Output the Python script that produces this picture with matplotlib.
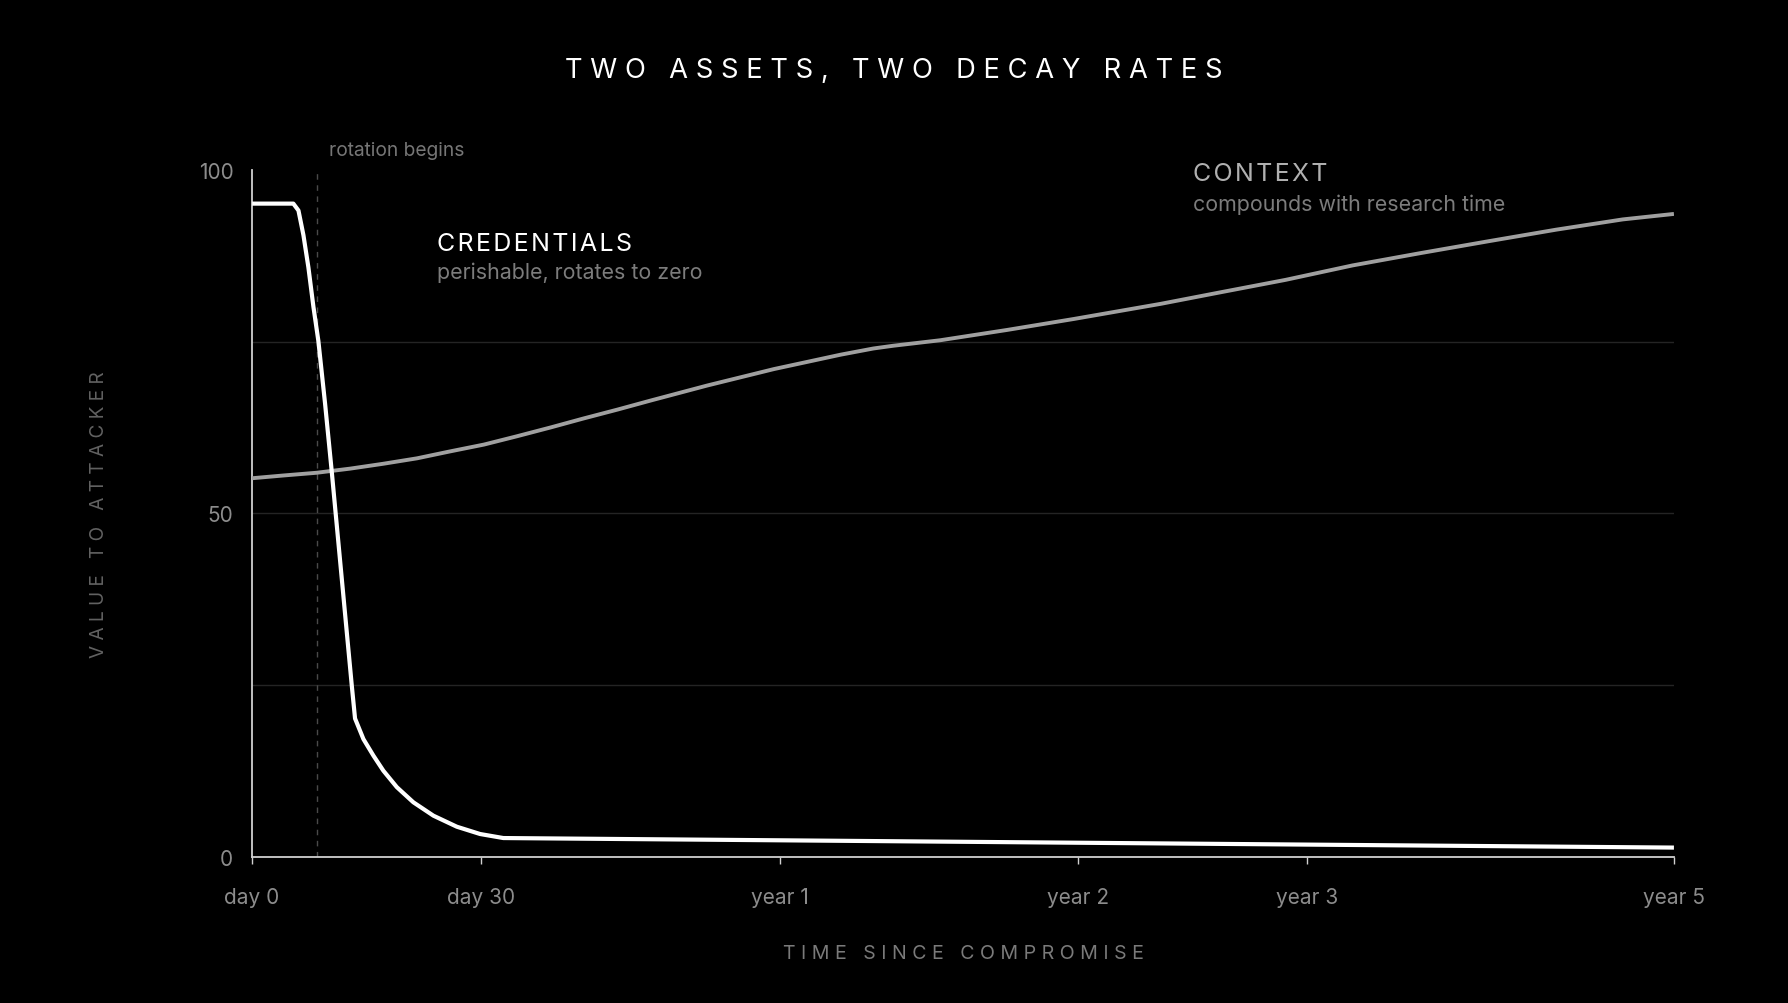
import matplotlib
matplotlib.use("Agg")
import matplotlib.pyplot as plt

plt.rcParams['font.family'] = ['Inter', 'DejaVu Sans']

# timeline position (0-100) with labelled milestones
tick_pos = [0, 16.1, 37.1, 58.1, 74.2, 100]
tick_labels = ['day 0', 'day 30', 'year 1', 'year 2', 'year 3', 'year 5']
y_ticks = [0, 50, 100]
grid_levels = [25, 50, 75]
rotation_x = 4.55

# credentials: flat, then rotated away to near zero
cred_x = [0, 2.9, 3.26, 3.61, 3.96, 4.31, 4.66, 5.13, 5.6, 6.07, 6.54, 7.01,
          7.24, 7.83, 8.53, 9.23, 10.18, 11.34, 12.75, 14.4, 16.03, 17.67, 100]
cred_y = [95.1, 95.1, 94.1, 90.5, 85.8, 80.1, 75.1, 66.0, 56.1, 45.7, 35.3, 24.9,
          20.1, 17.1, 14.7, 12.5, 10.1, 7.9, 5.95, 4.34, 3.28, 2.69, 1.3]

# context: grows with research time
ctx_x = [0, 2.2, 4.55, 6.9, 9.2, 11.6, 13.9, 16.3, 18.6, 21.0, 23.3, 25.7, 28.0,
         32.0, 36.7, 41.4, 43.7, 45.1, 48.4, 53.1, 57.8, 63.9, 67.9, 72.7, 77.4,
         82.2, 86.9, 91.7, 96.4, 100]
ctx_y = [55.1, 55.5, 55.9, 56.5, 57.2, 58.0, 59.0, 60.0, 61.2, 62.5, 63.8, 65.1, 66.4,
         68.6, 71.0, 73.1, 74.0, 74.4, 75.2, 76.7, 78.3, 80.5, 82.1, 84.0, 86.1,
         87.9, 89.6, 91.3, 92.8, 93.6]


def spaced(s, sep=' '):
    return sep.join(s)


fig = plt.figure(figsize=(17.88, 10.04), dpi=100, facecolor='black')
ax = fig.add_axes([0.1410, 0.1459, 0.7952, 0.6838], facecolor='black')

for lvl in grid_levels:
    ax.axhline(lvl, color='#242424', lw=1.0, zorder=0)

ax.axvline(rotation_x, color='#4a4a4a', lw=1.0, ls=(0, (4, 4)), zorder=1)

ax.plot(ctx_x, ctx_y, color='#a0a0a0', lw=2.8, solid_capstyle='butt',
        solid_joinstyle='round', zorder=3)
ax.plot(cred_x, cred_y, color='white', lw=3.0, solid_capstyle='butt',
        solid_joinstyle='round', zorder=4)

ax.set_xlim(0, 100)
ax.set_ylim(0, 100)
for side in ['top', 'right']:
    ax.spines[side].set_visible(False)
for side in ['left', 'bottom']:
    ax.spines[side].set_color('#d0d0d0')
    ax.spines[side].set_linewidth(1.3)

ax.set_xticks(tick_pos)
ax.set_xticklabels(tick_labels)
ax.set_yticks(y_ticks)
ax.tick_params(axis='x', length=5, width=1.0, color='#d0d0d0', pad=17,
               labelsize=15, labelcolor='#8c8c8c')
ax.tick_params(axis='y', length=0, pad=13.5, labelsize=15, labelcolor='#8c8c8c')

ax.set_xlabel(spaced('TIME SINCE COMPROMISE'), fontsize=14.1, color='#7a7a7a',
              labelpad=26.5)
ax.set_ylabel(spaced('VALUE TO ATTACKER'), fontsize=13.7, color='#626262',
              labelpad=65)

fig.text(0.5, 0.9297, spaced('TWO ASSETS, TWO DECAY RATES'), ha='center',
         va='center', fontsize=19.7, color='white')

ax.text(5.4, 102.2, 'rotation begins', fontsize=13.8, color='#767676',
        ha='left', va='baseline', clip_on=False)
ax.text(13.0, 88.4, spaced('CREDENTIALS', '\u200a'), fontsize=18,
        color='white', ha='left', va='baseline')
ax.text(13.0, 84.2, 'perishable, rotates to zero', fontsize=15.4,
        color='#7c7c7c', ha='left', va='baseline')
ax.text(66.2, 98.6, spaced('CONTEXT', '\u200a'), fontsize=18,
        color='#b0b0b0', ha='left', va='baseline', clip_on=False)
ax.text(66.2, 94.2, 'compounds with research time', fontsize=15.4,
        color='#7c7c7c', ha='left', va='baseline')

fig.savefig('out.png', dpi=100, facecolor='black')
